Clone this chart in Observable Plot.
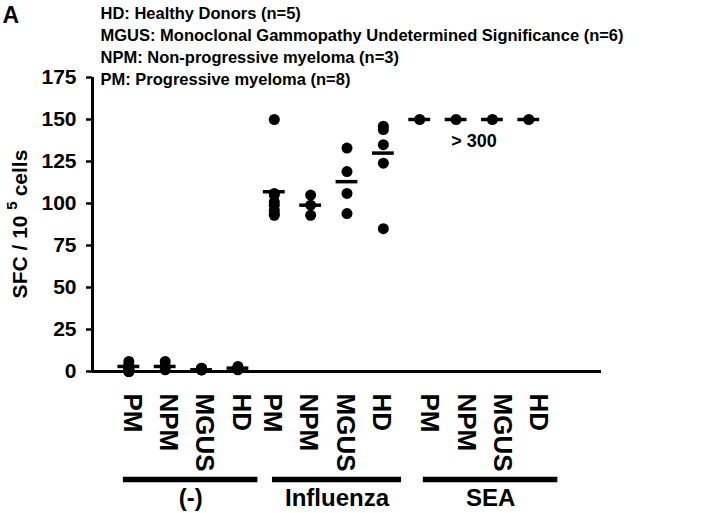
<!DOCTYPE html>
<html><head><meta charset="utf-8">
<script src="https://cdn.jsdelivr.net/npm/d3@7"></script>
<script src="https://cdn.jsdelivr.net/npm/@observablehq/plot@0.6"></script>
<style>body{margin:0;background:#fff} svg{display:block}</style>
</head><body><div id="chart"></div>
<script>
const panelLetter = "A";
const legendLines = [
  "HD: Healthy Donors (n=5)",
  "MGUS: Monoclonal Gammopathy Undetermined Significance (n=6)",
  "NPM: Non-progressive myeloma (n=3)",
  "PM: Progressive myeloma (n=8)"
];
const groups = ["(-)", "Influenza", "SEA"];
const subjects = ["PM", "NPM", "MGUS", "HD"];
// spot values per subject (order of subjects)
const noneValues = [[6, 4, 3, 2, 1, 1, 0, 0], [6, 3, 1], [2, 1, 1, 2, 1, 1], [3, 2, 2, 1, 2]];
const noneMeans = [3, 3, 1, 2];
const fluValues = [[150, 106, 105, 101, 99, 96, 94, 93], [105, 99, 93], [133, 119, 106, 94], [146, 144, 135, 124, 85]];
const fluMeans = [107, 99, 113, 130];
const seaValues = [[150], [150], [150], [150]];
const seaMeans = [150, 150, 150, 150];
const yTicks = [0, 25, 50, 75, 100, 125, 150, 175];
const yLabelParts = ["SFC / 10", "5", "cells"];
const capNote = "> 300";

const groupValues = [noneValues, fluValues, seaValues];
const groupMeans = [noneMeans, fluMeans, seaMeans];

const cats = [];
const points = [];
const means = [];
groups.forEach((g, gi) => subjects.forEach((s, si) => {
  const i = gi * subjects.length + si;
  cats.push({i, gi, group: g, subject: s});
  groupValues[gi][si].forEach(v => points.push({i, value: v}));
  means.push({i, value: groupMeans[gi][si]});
}));
const groupBars = groups.map((g, gi) => ({
  label: g,
  first: gi * subjects.length,
  last: gi * subjects.length + subjects.length - 1
}));
const noteAt = cats.find(c => c.group === "SEA" && c.subject === "NPM");

// label nudges per group (style only)
const labelNudge = [3, -2, 10];
const barNudge = [[-0.15, 0.55], [-0.05, 0.5], [0.1, 0.8]];

const font = "Liberation Sans, Arial, Helvetica, sans-serif";
const plot = Plot.plot({
  width: 720,
  height: 513,
  marginLeft: 92,
  marginRight: 119,
  marginTop: 77,
  marginBottom: 142,
  style: {fontFamily: font, fontWeight: "bold", color: "black", background: "white", overflow: "visible"},
  x: {type: "linear", domain: [-1, 13], axis: null},
  y: {domain: [0, 175], axis: null},
  marks: [
    Plot.axisY({ticks: yTicks, tickSize: 6, tickPadding: 10, fontSize: 21, fontWeight: "bold", strokeWidth: 2.5, label: null, tickFormat: d => String(d)}),
    Plot.ruleX([-1], {y1: 0, y2: 175, strokeWidth: 3}),
    Plot.ruleY([0], {strokeWidth: 3}),
    Plot.dot(points, {x: "i", y: "value", r: 5.5, fill: "black", stroke: null}),
    Plot.ruleY(means, {y: "value", x1: d => d.i - 0.3, x2: d => d.i + 0.3, strokeWidth: 3.5}),
    Plot.text([noteAt], {x: "i", y: () => 150, text: () => capNote, dx: 18, dy: 22, fontSize: 18, fontWeight: "bold", lineAnchor: "middle"}),
    ...groups.map((g, gi) => Plot.text(cats.filter(c => c.gi === gi), {x: "i", frameAnchor: "bottom", text: "subject", rotate: 90, textAnchor: "start", lineAnchor: "middle", dx: labelNudge[gi], dy: 22, fontSize: 26, fontWeight: "bold"})),
    Plot.ruleY(groupBars, {y: () => 0, x1: (d, k) => d.first + barNudge[k][0], x2: (d, k) => d.last + barNudge[k][1], dy: 108, strokeWidth: 5.5}),
    Plot.text(groupBars, {x: (d, k) => (d.first + barNudge[k][0] + d.last + barNudge[k][1]) / 2, frameAnchor: "bottom", text: "label", dy: 134, lineAnchor: "bottom", fontSize: 24, fontWeight: "bold"}),
    Plot.text([legendLines.join("\n")], {frameAnchor: "top-left", textAnchor: "start", lineAnchor: "top", lineHeight: 22 / 16.5, dx: 8, dy: -74, fontSize: 16.5, fontWeight: "bold"}),
    Plot.text([panelLetter], {frameAnchor: "top-left", textAnchor: "start", lineAnchor: "top", dx: -90, dy: -71, fontSize: 23, fontWeight: "bold"})
  ]
});
document.getElementById("chart").append(plot);

// y-axis label with superscript
const yr = plot.scale("y").range;
const yc = (yr[0] + yr[1]) / 2;
const lab = d3.select(plot).append("text")
  .attr("transform", `translate(27,${yc}) rotate(-90)`)
  .attr("text-anchor", "middle")
  .attr("font-family", font)
  .attr("font-weight", "bold")
  .attr("font-size", 21)
  .attr("fill", "black");
lab.append("tspan").text(yLabelParts[0] + " ");
lab.append("tspan").attr("font-size", 15).attr("dy", -10).text(yLabelParts[1]);
lab.append("tspan").attr("dy", 10).attr("dx", 5).text(yLabelParts[2]);
</script>
</body></html>
